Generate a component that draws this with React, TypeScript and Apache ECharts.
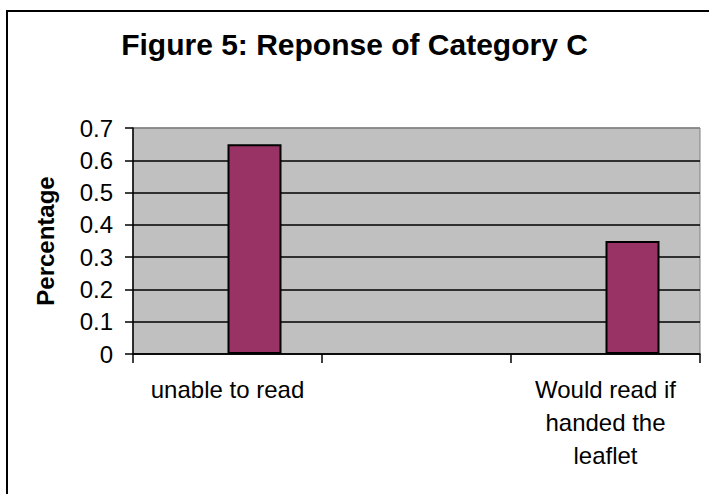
import React, { useEffect, useRef } from "react";
import * as echarts from "echarts";

const categories = ["unable to read", "", "Would read if\nhanded the\nleaflet"];
const emptySeries = [null, null, null];
const responseValues = [0.65, null, 0.35];
const yTicks = ["0", "0.1", "0.2", "0.3", "0.4", "0.5", "0.6", "0.7"];

const FONT = "Arial, 'Liberation Sans', sans-serif";

export default function App() {
  const ref = useRef<HTMLDivElement>(null);
  useEffect(() => {
    if (!ref.current) return;
    const chart = echarts.init(ref.current, undefined, { renderer: "svg" });
    chart.setOption({
      animation: false,
      backgroundColor: "#ffffff",
      title: {
        text: "Figure 5: Reponse of Category C",
        left: "center",
        top: 24,
        textStyle: { fontFamily: FONT, fontWeight: "bold", fontSize: 30, color: "#000" },
      },
      graphic: [
        {
          type: "rect",
          shape: { x: 7, y: 11, width: 720, height: 500 },
          style: { fill: "none", stroke: "#000", lineWidth: 2 },
          silent: true,
        },
      ],
      grid: {
        left: 133,
        right: 9,
        top: 128,
        bottom: 140,
        show: true,
        backgroundColor: "#C0C0C0",
        borderColor: "#808080",
        borderWidth: 1,
      },
      xAxis: {
        type: "category",
        data: categories,
        boundaryGap: true,
        axisLine: { show: true, lineStyle: { color: "#000", width: 1.5 } },
        axisTick: { show: true, length: 9, inside: false, lineStyle: { color: "#000", width: 1.5 } },
        axisLabel: {
          interval: 0,
          fontFamily: FONT,
          fontSize: 24,
          lineHeight: 33,
          margin: 19,
          color: "#000",
          align: "center",
        },
        splitLine: { show: false },
      },
      yAxis: {
        type: "value",
        min: 0,
        max: 0.7,
        interval: 0.1,
        name: "Percentage",
        nameLocation: "middle",
        nameGap: 76,
        nameRotate: 90,
        nameTextStyle: { fontFamily: FONT, fontWeight: "bold", fontSize: 24, color: "#000" },
        axisLine: { show: true, lineStyle: { color: "#000", width: 1.5 } },
        axisTick: { show: true, length: 8, inside: false, lineStyle: { color: "#000", width: 1.5 } },
        axisLabel: {
          fontFamily: FONT,
          fontSize: 24,
          color: "#000",
          margin: 20,
          formatter: (v: number) => yTicks[Math.round(v * 10)] ?? String(v),
        },
        splitLine: {
          show: true,
          lineStyle: {
            color: ["#000", "#000", "#000", "#000", "#000", "#000", "#000", "#808080"],
            width: 1.5,
          },
        },
      },
      series: [
        {
          type: "bar",
          name: "blank",
          data: emptySeries,
          barWidth: 54,
          barGap: "0%",
          itemStyle: { color: "#993366" },
        },
        {
          type: "bar",
          name: "Response",
          data: responseValues,
          barWidth: 54,
          barGap: "0%",
          itemStyle: { color: "#993366", borderColor: "#000", borderWidth: 2 },
        },
      ],
    });
    return () => chart.dispose();
  }, []);
  return (
    <div
      ref={ref}
      style={{ position: "absolute", left: 0, top: 0, width: 709, height: 494 }}
    />
  );
}
